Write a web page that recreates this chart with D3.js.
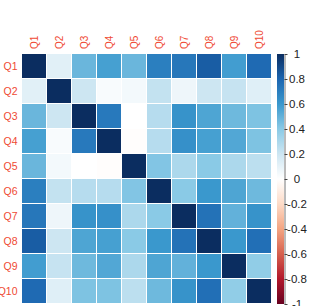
<!DOCTYPE html>
<html>
<head>
<meta charset="utf-8">
<script src="https://cdn.jsdelivr.net/npm/d3@7"></script>
<style>
  body { margin: 0; background: #fff; }
  svg { display: block; font-family: "Liberation Sans", Arial, sans-serif; }
</style>
</head>
<body>
<div id="chart"></div>
<script>
var labels = ["Q1", "Q2", "Q3", "Q4", "Q5", "Q6", "Q7", "Q8", "Q9", "Q10"];

// correlation rows
var q1  = [1.00, 0.12, 0.48, 0.57, 0.48, 0.70, 0.73, 0.83, 0.58, 0.78];
var q2  = [0.12, 1.00, 0.20, 0.03, 0.05, 0.23, 0.07, 0.20, 0.22, 0.13];
var q3  = [0.48, 0.20, 1.00, 0.72, 0.00, 0.27, 0.62, 0.55, 0.47, 0.43];
var q4  = [0.57, 0.03, 0.72, 1.00, -0.01, 0.27, 0.63, 0.57, 0.54, 0.43];
var q5  = [0.48, 0.05, 0.00, -0.01, 1.00, 0.42, 0.30, 0.40, 0.30, 0.25];
var q6  = [0.70, 0.23, 0.27, 0.27, 0.42, 1.00, 0.40, 0.60, 0.55, 0.47];
var q7  = [0.73, 0.07, 0.62, 0.63, 0.30, 0.40, 1.00, 0.75, 0.50, 0.62];
var q8  = [0.83, 0.20, 0.55, 0.57, 0.40, 0.60, 0.75, 1.00, 0.60, 0.76];
var q9  = [0.58, 0.22, 0.47, 0.54, 0.30, 0.55, 0.50, 0.60, 1.00, 0.38];
var q10 = [0.78, 0.13, 0.43, 0.43, 0.25, 0.47, 0.62, 0.76, 0.38, 1.00];
var rows = [q1, q2, q3, q4, q5, q6, q7, q8, q9, q10];

var legendTicks = [1, 0.8, 0.6, 0.4, 0.2, 0, -0.2, -0.4, -0.6, -0.8, -1];
var palette = ["#67001F", "#B2182B", "#D6604D", "#F4A582", "#FDDBC7", "#FFFFFF",
               "#cde6f2", "#8acae6", "#3a98cd", "#1c65b0", "#0b2d60"];

var W = 309, H = 306;
var gridLeft = 21.5, gridTop = 53.5, gridSize = 250;
var labelCol = "#ef4a33";

var svg = d3.select("#chart").append("svg")
    .attr("width", W)
    .attr("height", H);

var x = d3.scaleBand().domain(labels).range([gridLeft, gridLeft + gridSize]);
var y = d3.scaleBand().domain(labels).range([gridTop, gridTop + gridSize]);
var color = d3.scaleLinear()
    .domain(d3.range(palette.length).map(function(i) { return -1 + i * 0.2; }))
    .range(palette);

var cells = [];
rows.forEach(function(r, i) {
  r.forEach(function(v, j) {
    cells.push({ row: labels[i], col: labels[j], v: v });
  });
});

svg.append("g").selectAll("rect")
  .data(cells)
  .enter()
  .append("rect")
    .attr("x", function(d) { return x(d.col) + 0.5; })
    .attr("y", function(d) { return y(d.row) + 0.5; })
    .attr("width", x.bandwidth() - 1)
    .attr("height", y.bandwidth() - 1)
    .attr("fill", function(d) { return color(d.v); });

// row labels
svg.append("g").selectAll("text")
  .data(labels)
  .enter()
  .append("text")
    .attr("x", 17.5)
    .attr("y", function(d) { return y(d) + y.bandwidth() / 2; })
    .attr("dy", "0.35em")
    .attr("text-anchor", "end")
    .attr("font-size", "10.5px")
    .attr("fill", labelCol)
    .text(function(d) { return d; });

// column labels
svg.append("g").selectAll("text")
  .data(labels)
  .enter()
  .append("text")
    .attr("transform", function(d) {
      return "translate(" + (x(d) + x.bandwidth() / 2) + "," + (gridTop - 4.5) + ")rotate(-90)";
    })
    .attr("dy", "0.35em")
    .attr("text-anchor", "start")
    .attr("font-size", "10px")
    .attr("fill", labelCol)
    .text(function(d) { return d; });

// colour legend
var lx = 277, lw = 7;
var ly = d3.scaleLinear().domain([1, -1]).range([gridTop + 0.5, gridTop + gridSize + 0.5]);

var grad = svg.append("defs").append("linearGradient")
    .attr("id", "cbar")
    .attr("x1", 0).attr("y1", 0).attr("x2", 0).attr("y2", 1);
grad.selectAll("stop")
  .data(palette.slice().reverse())
  .enter()
  .append("stop")
    .attr("offset", function(d, i) { return (i / (palette.length - 1) * 100) + "%"; })
    .attr("stop-color", function(d) { return d; });

svg.append("rect")
    .attr("x", lx)
    .attr("y", ly(1))
    .attr("width", lw)
    .attr("height", ly(-1) - ly(1))
    .attr("fill", "url(#cbar)");

var axis = svg.append("g")
    .attr("transform", "translate(" + (lx + lw + 0.5) + ",0)")
    .call(d3.axisRight(ly).tickValues(legendTicks).tickSize(3).tickSizeOuter(0)
      .tickFormat(function(d) { return String(d); }));
axis.select(".domain").attr("stroke", "#777");
axis.selectAll(".tick line").attr("stroke", "#444");
axis.selectAll(".tick text")
    .attr("x", 12.5)
    .attr("text-anchor", "middle")
    .attr("font-size", "11.5px")
    .attr("font-family", "Liberation Sans, Arial, sans-serif")
    .attr("fill", "#222");
</script>
</body>
</html>
